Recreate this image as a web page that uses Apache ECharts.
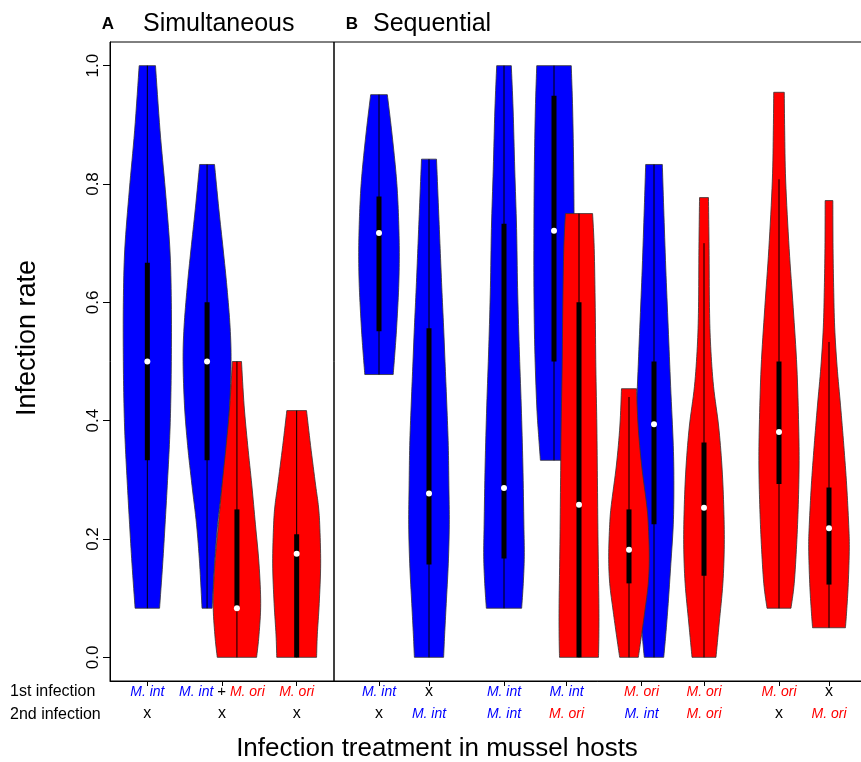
<!DOCTYPE html>
<html><head><meta charset="utf-8">
<script src="https://cdn.jsdelivr.net/npm/echarts@6/dist/echarts.min.js"></script>
<style>html,body{margin:0;padding:0;background:#fff}#c{width:861px;height:762px}</style>
</head><body><div id="c"></div>
<script>
// ---------------- DATA ----------------
// Panel A (simultaneous)
const aPos = [1, 1.8, 2.2, 3];
const aSpecies = ['int', 'int', 'ori', 'ori'];
const aMedian = [0.5, 0.5, 0.083, 0.175];
const aQ1 = [0.333, 0.333, 0.083, 0];
const aQ3 = [0.667, 0.6, 0.25, 0.208];
const aWhiskLo = [0.083, 0.083, 0, 0];
const aWhiskHi = [1.0, 0.833, 0.5, 0.417];
// density profiles: [infection rate, relative density]
const shapeA1 = [[1.0,0.34],[0.89,0.53],[0.79,0.75],[0.69,0.94],[0.6,1.0],[0.5,1.0],[0.42,0.97],[0.36,0.92],[0.29,0.83],[0.225,0.74],[0.158,0.64],[0.083,0.51]];
const shapeA2int = [[0.833,0.31],[0.758,0.49],[0.69,0.67],[0.625,0.83],[0.558,0.96],[0.5,1.0],[0.425,0.94],[0.358,0.81],[0.291,0.63],[0.225,0.44],[0.158,0.31],[0.083,0.21]];
const shapeA2ori = [[0.5,0.19],[0.425,0.3],[0.358,0.45],[0.291,0.62],[0.225,0.77],[0.158,0.92],[0.091,0.99],[0.038,0.92],[0,0.82]];
const shapeA3 = [[0.417,0.41],[0.358,0.58],[0.291,0.79],[0.258,0.9],[0.225,0.96],[0.158,1.0],[0.091,0.94],[0.038,0.86],[0,0.83]];
const aShapes = [shapeA1, shapeA2int, shapeA2ori, shapeA3];
const aTickPos = [1, 2, 3];
const aFirst = ['M. int', 'M. int + M. ori', 'M. ori'];
const aSecond = ['x', 'x', 'x'];

// Panel B (sequential)
const bPos = [1, 3, 6, 8, 9, 11, 12, 14, 17, 19];
const bSpecies = ['int', 'int', 'int', 'int', 'ori', 'ori', 'int', 'ori', 'ori', 'ori'];
const bMedian = [0.717, 0.277, 0.286, 0.721, 0.258, 0.182, 0.394, 0.253, 0.381, 0.218];
const bQ1 = [0.551, 0.157, 0.167, 0.5, 0, 0.125, 0.225, 0.138, 0.293, 0.123];
const bQ3 = [0.779, 0.556, 0.733, 0.949, 0.6, 0.25, 0.5, 0.363, 0.5, 0.287];
const bWhiskLo = [0.478, 0, 0.083, 0.333, 0, 0, 0, 0, 0.083, 0.05];
const bWhiskHi = [0.951, 0.842, 1.0, 1.0, 0.75, 0.44, 0.833, 0.7, 0.808, 0.533];
const shapeB1 = [[0.951,0.41],[0.891,0.62],[0.825,0.82],[0.778,0.92],[0.725,0.98],[0.678,1.0],[0.625,0.97],[0.558,0.87],[0.518,0.79],[0.478,0.7]];
const shapeB2 = [[0.842,0.37],[0.758,0.47],[0.691,0.55],[0.625,0.63],[0.558,0.72],[0.491,0.8],[0.425,0.88],[0.358,0.95],[0.291,0.98],[0.225,1.0],[0.158,0.95],[0.091,0.85],[0.038,0.77],[0,0.72]];
const shapeB3 = [[1.0,0.36],[0.925,0.45],[0.825,0.53],[0.725,0.62],[0.625,0.67],[0.525,0.75],[0.425,0.85],[0.325,0.93],[0.225,0.98],[0.171,1.0],[0.125,0.95],[0.083,0.87]];
const shapeB4int = [[1.0,0.85],[0.925,0.92],[0.825,0.97],[0.725,0.99],[0.625,0.99],[0.525,0.95],[0.425,0.85],[0.371,0.75],[0.333,0.67]];
const shapeB4ori = [[0.75,0.67],[0.691,0.75],[0.591,0.8],[0.491,0.83],[0.391,0.88],[0.291,0.91],[0.191,0.94],[0.091,0.98],[0.038,0.98],[0,0.96]];
const shapeB5ori = [[0.454,0.37],[0.391,0.45],[0.325,0.62],[0.258,0.87],[0.225,0.95],[0.171,1.0],[0.125,0.95],[0.078,0.78],[0.038,0.62],[0,0.46]];
const shapeB5int = [[0.833,0.41],[0.758,0.48],[0.658,0.58],[0.558,0.7],[0.458,0.82],[0.358,0.95],[0.291,0.98],[0.225,0.95],[0.158,0.83],[0.091,0.7],[0.038,0.58],[0,0.48]];
const shapeB6 = [[0.777,0.22],[0.691,0.25],[0.591,0.27],[0.525,0.33],[0.458,0.47],[0.391,0.72],[0.325,0.88],[0.258,0.97],[0.191,1.0],[0.125,0.93],[0.058,0.75],[0,0.59]];
const shapeB7 = [[0.955,0.26],[0.891,0.28],[0.805,0.33],[0.691,0.5],[0.591,0.7],[0.491,0.88],[0.391,0.97],[0.325,0.99],[0.258,0.95],[0.191,0.87],[0.125,0.75],[0.083,0.59]];
const shapeB8 = [[0.772,0.19],[0.691,0.2],[0.625,0.23],[0.558,0.28],[0.491,0.4],[0.425,0.57],[0.358,0.73],[0.291,0.87],[0.225,0.97],[0.185,1.0],[0.125,0.95],[0.078,0.87],[0.05,0.81]];
const bShapes = [shapeB1, shapeB2, shapeB3, shapeB4int, shapeB4ori, shapeB5ori, shapeB5int, shapeB6, shapeB7, shapeB8];
const bTickPos = [1, 3, 6, 8.5, 11.5, 14, 17, 19];
const bFirst = ['M. int', 'x', 'M. int', 'M. int', 'M. ori', 'M. ori', 'M. ori', 'x'];
const bSecond = ['x', 'M. int', 'M. int', 'M. ori', 'M. int', 'M. ori', 'x', 'M. ori'];

const yTicks = [0, 0.2, 0.4, 0.6, 0.8, 1.0];

// ---------------- STYLE / RENDER ----------------
const FF = '"Liberation Sans", Arial, Helvetica, sans-serif';
const COLORS = { int: '#0000FF', ori: '#FF0000' };

function smoothSide(pts, n) {
  if (pts.length < 3) return pts.slice();
  const out = [];
  for (let k = 0; k < pts.length - 1; k++) {
    const p0 = pts[Math.max(k - 1, 0)], p1 = pts[k], p2 = pts[k + 1], p3 = pts[Math.min(k + 2, pts.length - 1)];
    for (let s = 0; s < n; s++) {
      const t = s / n, t2 = t * t, t3 = t2 * t;
      const f = (a, b, c, d) => 0.5 * ((2 * b) + (-a + c) * t + (2 * a - 5 * b + 4 * c - d) * t2 + (-a + 3 * b - 3 * c + d) * t3);
      out.push([f(p0[0], p1[0], p2[0], p3[0]), f(p0[1], p1[1], p2[1], p3[1])]);
    }
  }
  out.push(pts[pts.length - 1]);
  return out;
}

function violinRenderer(shapes, med, q1, q3, lo, hi, species, halfPx) {
  return function (params, api) {
    const x = api.value(0);
    const i = api.value(1);
    const prof = shapes[i];
    const left = [], right = [];
    for (const [v, w] of prof) {
      const p = api.coord([x, v]);
      left.push([p[0] - w * halfPx, p[1]]);
      right.push([p[0] + w * halfPx, p[1]]);
    }
    const L = smoothSide(left, 8), R = smoothSide(right, 8);
    const pts = L.concat(R.reverse());
    const pLo = api.coord([x, lo[i]]), pHi = api.coord([x, hi[i]]);
    const pQ1 = api.coord([x, q1[i]]), pQ3 = api.coord([x, q3[i]]);
    const pM = api.coord([x, med[i]]);
    return {
      type: 'group',
      children: [
        { type: 'polygon', shape: { points: pts }, style: { fill: COLORS[species[i]], stroke: '#333', lineWidth: 0.8 } },
        { type: 'line', shape: { x1: pLo[0], y1: pLo[1], x2: pHi[0], y2: pHi[1] }, style: { stroke: '#000', lineWidth: 1 } },
        { type: 'rect', shape: { x: pQ3[0] - 2.5, y: pQ3[1], width: 5, height: pQ1[1] - pQ3[1] }, style: { fill: '#000' } },
        { type: 'circle', shape: { cx: pM[0], cy: pM[1], r: 3 }, style: { fill: '#fff' } }
      ]
    };
  };
}

function orderedData(pos, species) {
  const idx = pos.map((p, i) => i);
  idx.sort((a, b) => (species[a] === species[b] ? a - b : (species[a] === 'int' ? -1 : 1)));
  return idx.map(i => [pos[i], i]);
}

function tag(t) {
  if (t === 'M. int') return '{b|M. int}';
  if (t === 'M. ori') return '{r|M. ori}';
  if (t === 'x') return '{k|x}';
  return t.split(' + ').map(tag).join(' {p|+} ');
}

function labelFormatter(ticks, first, second) {
  return function (v) {
    let k = -1;
    ticks.forEach((t, j) => { if (Math.abs(t - v) < 1e-6) k = j; });
    if (k < 0) return '';
    return tag(first[k]) + '\n' + tag(second[k]);
  };
}

const rich = {
  b: { color: '#0000FF', fontStyle: 'italic', fontSize: 14, lineHeight: 22, fontFamily: FF },
  r: { color: '#FF0000', fontStyle: 'italic', fontSize: 14, lineHeight: 22, fontFamily: FF },
  k: { color: '#000', fontSize: 16, lineHeight: 22, fontFamily: FF },
  p: { color: '#000', fontSize: 15, lineHeight: 22, fontFamily: FF }
};

function xAxisCfg(grid, min, max, ticks, first, second) {
  return {
    type: 'value', gridIndex: grid, min: min, max: max,
    splitLine: { show: false },
    axisLine: { show: true, onZero: false, lineStyle: { color: '#000', width: 1 } },
    axisTick: { show: true, customValues: ticks, length: 5, lineStyle: { color: '#000' } },
    axisLabel: { show: true, customValues: ticks, margin: 0, fontSize: 14, fontFamily: FF, color: '#000',
      formatter: labelFormatter(ticks, first, second), rich: rich, hideOverlap: false }
  };
}

const chart = echarts.init(document.getElementById('c'), null, { renderer: 'canvas' });
const bMin = -0.8, bMax = -0.8 + 545 / 25;

chart.setOption({
  animation: false,
  backgroundColor: '#fff',
  grid: [
    { left: 110, top: 42, width: 224, height: 639, outerBoundsMode: 'none', containLabel: false, show: true, borderColor: '#000', borderWidth: 1, backgroundColor: 'transparent' },
    { left: 334, top: 42, width: 545, height: 639, outerBoundsMode: 'none', containLabel: false, show: true, borderColor: '#000', borderWidth: 1, backgroundColor: 'transparent' }
  ],
  xAxis: [
    xAxisCfg(0, 0.5, 3.5, aTickPos, aFirst, aSecond),
    xAxisCfg(1, bMin, bMax, bTickPos, bFirst, bSecond)
  ],
  yAxis: [
    {
      type: 'value', gridIndex: 0, min: -0.04, max: 1.04,
      splitLine: { show: false },
      axisLine: { show: true, onZero: false, lineStyle: { color: '#000' } },
      axisTick: { show: true, customValues: yTicks, length: 7, lineStyle: { color: '#000' } },
      axisLabel: { show: true, customValues: yTicks, rotate: 90, margin: 8, fontSize: 17, fontFamily: FF, color: '#000',
        formatter: v => v.toFixed(1) }
    },
    { type: 'value', gridIndex: 1, min: -0.04, max: 1.04, show: false, splitLine: { show: false } }
  ],
  series: [
    {
      type: 'custom', xAxisIndex: 0, yAxisIndex: 0, clip: false,
      dimensions: ['x', 'idx'], encode: { x: 0 },
      renderItem: violinRenderer(aShapes, aMedian, aQ1, aQ3, aWhiskLo, aWhiskHi, aSpecies, 24),
      data: orderedData(aPos, aSpecies)
    },
    {
      type: 'custom', xAxisIndex: 1, yAxisIndex: 1, clip: false,
      dimensions: ['x', 'idx'], encode: { x: 0 },
      renderItem: violinRenderer(bShapes, bMedian, bQ1, bQ3, bWhiskLo, bWhiskHi, bSpecies, 20.3),
      data: orderedData(bPos, bSpecies)
    }
  ],
  graphic: [
    { type: 'text', x: 108, y: 24, style: { text: 'A', fontSize: 17, fontWeight: 'bold', fontFamily: FF, fill: '#000', align: 'center', verticalAlign: 'middle' } },
    { type: 'text', x: 143, y: 24, style: { text: 'Simultaneous', fontSize: 25, fontFamily: FF, fill: '#000', align: 'left', verticalAlign: 'middle' } },
    { type: 'text', x: 352, y: 24, style: { text: 'B', fontSize: 17, fontWeight: 'bold', fontFamily: FF, fill: '#000', align: 'center', verticalAlign: 'middle' } },
    { type: 'text', x: 373, y: 24, style: { text: 'Sequential', fontSize: 25, fontFamily: FF, fill: '#000', align: 'left', verticalAlign: 'middle' } },
    { type: 'text', x: 28, y: 338, rotation: Math.PI / 2, style: { text: 'Infection rate', fontSize: 27, fontFamily: FF, fill: '#000', align: 'center', verticalAlign: 'middle' } },
    { type: 'text', x: 437, y: 749, style: { text: 'Infection treatment in mussel hosts', fontSize: 26, fontFamily: FF, fill: '#000', align: 'center', verticalAlign: 'middle' } },
    { type: 'text', x: 10, y: 692, style: { text: '1st infection', fontSize: 16, fontFamily: FF, fill: '#000', align: 'left', verticalAlign: 'middle' } },
    { type: 'text', x: 10, y: 715, style: { text: '2nd infection', fontSize: 16, fontFamily: FF, fill: '#000', align: 'left', verticalAlign: 'middle' } }
  ]
});
</script></body></html>
